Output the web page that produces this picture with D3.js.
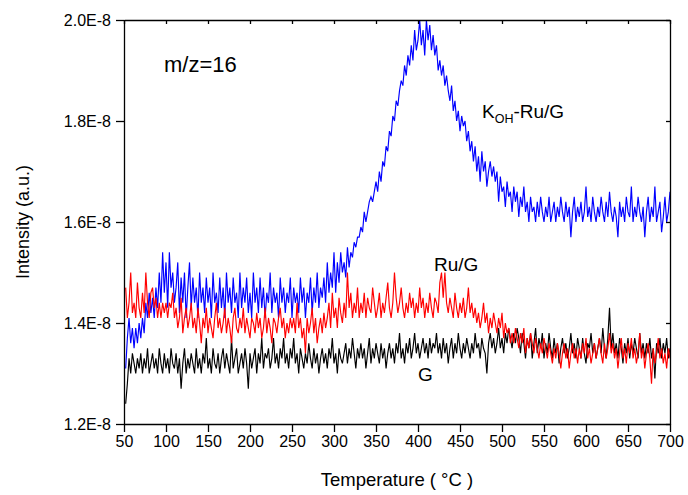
<!DOCTYPE html>
<html>
<head>
<meta charset="utf-8">
<script src="https://cdn.jsdelivr.net/npm/d3@7"></script>
<style>
    body { margin: 0; background: #fff; }
    svg { font-family: "Liberation Sans", Arial, sans-serif; }
    .axis path, .axis line { stroke: #000; stroke-width: 1.3; }
    .axis text { font-size: 16px; fill: #000; }
    .series { fill: none; stroke-width: 1.15; stroke-linejoin: miter; }
</style>
</head>
<body>
<svg width="688" height="495"></svg>
<script>
// Temperatures are sampled every 2 degC from 52 to 700
var temps = d3.range(52, 701, 2);

// Intensities in units of 1E-10 (so 134 = 1.34E-8)
var kohRuG = [
    131, 137, 141, 136, 139, 135, 139, 136, 140, 137,
    141, 138, 144, 141, 146, 142, 145, 141, 147, 143,
    150, 144, 154, 146, 152, 143, 154, 147, 150, 144,
    147, 152, 142, 149, 144, 150, 141, 147, 152, 143,
    149, 144, 147, 141, 150, 144, 147, 142, 149, 144,
    147, 141, 150, 144, 146, 142, 149, 143, 147, 141,
    150, 144, 147, 142, 149, 144, 146, 141, 150, 143,
    147, 144, 149, 142, 146, 141, 150, 144, 147, 142,
    149, 143, 147, 141, 146, 144, 150, 142, 147, 144,
    146, 141, 149, 144, 147, 142, 146, 144, 149, 141,
    147, 144, 146, 142, 149, 144, 147, 141, 146, 144,
    149, 142, 147, 144, 150, 143, 147, 145, 149, 144,
    152, 146, 150, 147, 154, 146, 152, 148, 154, 150,
    152, 149, 155, 151, 154, 153, 156, 155, 157, 157,
    159, 158, 162, 160, 162, 164, 165, 164, 166, 168,
    166, 170, 168, 172, 171, 175, 174, 178, 177, 181,
    180, 184, 183, 186, 188, 187, 191, 189, 193, 191,
    195, 192, 198, 194, 196, 200, 195, 198, 193, 200,
    196, 199, 194, 197, 193, 195, 190, 192, 189, 191,
    187, 189, 186, 184, 187, 182, 184, 180, 182, 178,
    181, 179, 180, 176, 178, 174, 176, 172, 175, 170,
    173, 168, 174, 170, 172, 167, 170, 172, 169, 171,
    168, 170, 164, 169, 166, 167, 163, 168, 165, 166,
    162, 167, 164, 166, 161, 165, 163, 167, 162, 164,
    160, 165, 162, 163, 160, 164, 161, 165, 162, 160,
    163, 161, 165, 160, 162, 164, 160, 163, 161, 165,
    162, 160, 164, 161, 163, 157, 162, 165, 160, 163,
    161, 164, 160, 162, 167, 161, 163, 160, 165, 162,
    160, 163, 161, 165, 162, 160, 164, 161, 166, 162,
    160, 163, 161, 157, 164, 161, 163, 160, 165, 162,
    161, 167, 160, 163, 161, 165, 162, 160, 163, 157,
    162, 165, 160, 163, 161, 167, 160, 162, 164, 158,
    161, 165, 160, 162, 166
];

var ruG = [
    147, 141, 144, 150, 142, 144, 141, 148, 143, 141,
    146, 142, 150, 144, 141, 146, 147, 143, 145, 141,
    144, 141, 144, 142, 144, 141, 144, 143, 146, 141,
    143, 139, 141, 145, 138, 141, 143, 139, 141, 144,
    139, 141, 138, 143, 140, 136, 141, 139, 143, 138,
    141, 139, 137, 141, 144, 139, 141, 138, 140, 143,
    138, 141, 139, 136, 141, 143, 139, 138, 141, 139,
    143, 138, 141, 139, 137, 141, 140, 138, 142, 139,
    141, 137, 139, 143, 138, 141, 139, 136, 141, 140,
    138, 141, 143, 139, 141, 137, 140, 138, 141, 139,
    141, 138, 144, 139, 141, 137, 139, 134, 141, 138,
    140, 143, 138, 141, 136, 139, 141, 138, 142, 139,
    141, 144, 139, 146, 141, 143, 139, 145, 142, 140,
    144, 141, 150, 143, 146, 141, 144, 142, 147, 141,
    144, 142, 146, 141, 145, 143, 142, 147, 144, 141,
    143, 146, 141, 144, 142, 145, 148, 143, 141, 144,
    150, 145, 142, 144, 147, 143, 141, 144, 142, 146,
    143, 145, 141, 144, 142, 147, 143, 145, 141, 144,
    142, 146, 143, 141, 145, 144, 142, 148, 150, 145,
    150, 144, 142, 145, 143, 141, 146, 143, 141, 144,
    142, 145, 141, 143, 147, 142, 144, 141, 143, 140,
    142, 139, 141, 144, 140, 142, 138, 141, 139, 142,
    140, 138, 141, 139, 142, 137, 140, 138, 139, 136,
    138, 136, 139, 137, 135, 138, 136, 139, 134, 137,
    135, 138, 136, 134, 137, 135, 133, 136, 134, 137,
    135, 133, 136, 134, 132, 135, 133, 136, 134, 131,
    134, 136, 133, 135, 131, 134, 136, 133, 135, 132,
    135, 133, 136, 134, 137, 133, 135, 132, 134, 136,
    133, 135, 137, 134, 132, 136, 133, 135, 138, 134,
    136, 133, 135, 131, 134, 137, 133, 135, 132, 136,
    134, 137, 133, 135, 132, 134, 138, 133, 135, 131,
    134, 136, 133, 128, 135, 132, 134, 137, 133, 135,
    132, 134, 131, 135, 133
];

var gOnly = [
    124, 128, 133, 130, 134, 132, 130, 133, 131, 134,
    130, 133, 131, 135, 130, 132, 134, 131, 133, 130,
    135, 132, 130, 134, 131, 133, 130, 135, 132, 131,
    134, 130, 133, 127, 132, 135, 130, 133, 131, 134,
    132, 130, 135, 131, 133, 130, 134, 132, 137, 131,
    133, 130, 135, 132, 131, 134, 130, 133, 135, 131,
    134, 132, 130, 137, 131, 133, 135, 130, 132, 134,
    131, 135, 132, 127, 134, 131, 133, 135, 130, 134,
    132, 137, 131, 134, 133, 135, 131, 133, 137, 132,
    134, 131, 135, 133, 137, 132, 134, 131, 135, 133,
    137, 132, 134, 130, 135, 133, 131, 134, 132, 136,
    133, 131, 135, 132, 134, 130, 133, 135, 132, 134,
    131, 135, 133, 137, 132, 134, 130, 135, 133, 132,
    134, 136, 132, 135, 133, 137, 134, 131, 135, 133,
    136, 133, 135, 131, 134, 137, 132, 135, 133, 136,
    134, 132, 136, 133, 135, 131, 134, 136, 133, 135,
    132, 136, 134, 138, 133, 135, 132, 136, 134, 137,
    133, 135, 138, 134, 136, 133, 135, 137, 134, 136,
    133, 137, 134, 136, 135, 138, 134, 136, 133, 137,
    134, 136, 132, 135, 137, 133, 136, 134, 138, 135,
    133, 136, 134, 137, 135, 133, 136, 134, 138, 135,
    136, 133, 137, 135, 134, 130, 136, 138, 135, 137,
    134, 136, 139, 135, 137, 134, 138, 136, 139, 137,
    135, 138, 136, 139, 137, 134, 138, 136, 133, 137,
    135, 138, 133, 136, 139, 134, 137, 135, 138, 133,
    136, 134, 138, 135, 133, 137, 134, 136, 132, 135,
    137, 134, 136, 133, 135, 138, 134, 136, 133, 137,
    135, 133, 137, 134, 132, 136, 135, 138, 134, 136,
    133, 135, 137, 134, 139, 135, 133, 137, 143, 135,
    138, 134, 136, 133, 137, 135, 132, 136, 134, 137,
    133, 136, 134, 137, 135, 133, 138, 134, 136, 133,
    136, 134, 137, 133, 135, 129, 136, 134, 137, 133,
    136, 134, 137, 133, 135
];

var xTicks = [50, 100, 150, 200, 250, 300, 350, 400, 450, 500, 550, 600, 650, 700];
var yTicks = [120, 140, 160, 180, 200];
var yTickLabels = ['1.2E-8', '1.4E-8', '1.6E-8', '1.8E-8', '2.0E-8'];

var svg = d3.select('svg');
var padding = {t: 20, r: 18, b: 71, l: 124};
var chartWidth = +svg.attr('width') - padding.l - padding.r;
var chartHeight = +svg.attr('height') - padding.t - padding.b;

var chartG = svg.append('g')
    .attr('transform', 'translate(' + [padding.l, padding.t] + ')');

var xScale = d3.scaleLinear().domain([50, 700]).range([0, chartWidth]);
var yScale = d3.scaleLinear().domain([120, 200]).range([chartHeight, 0]);

// Series, black first, red on top
var seriesList = [
    {values: gOnly, color: '#000000'},
    {values: kohRuG, color: '#0000ff'},
    {values: ruG, color: '#ff0000'}
];

var line = d3.line()
    .x(function(d, i) { return xScale(temps[i]); })
    .y(function(d) { return yScale(d); });

chartG.selectAll('.series')
    .data(seriesList)
    .enter()
    .append('path')
    .attr('class', 'series')
    .attr('stroke', function(d) { return d.color; })
    .attr('d', function(d) { return line(d.values); });

// Axes: labelled bottom/left, mirrored inward ticks top/right
chartG.append('g')
    .attr('class', 'axis')
    .attr('transform', 'translate(0,' + chartHeight + ')')
    .call(d3.axisBottom(xScale).tickValues(xTicks).tickSize(8).tickPadding(4).tickSizeOuter(0));

chartG.append('g')
    .attr('class', 'axis')
    .call(d3.axisLeft(yScale).tickValues(yTicks).tickSize(8).tickPadding(5).tickSizeOuter(0)
        .tickFormat(function(d, i) { return yTickLabels[i]; }));

chartG.append('g')
    .attr('class', 'axis')
    .call(d3.axisTop(xScale).tickValues(xTicks).tickSize(-4).tickSizeOuter(0).tickFormat(''));

chartG.append('g')
    .attr('class', 'axis')
    .attr('transform', 'translate(' + chartWidth + ',0)')
    .call(d3.axisRight(yScale).tickValues(yTicks).tickSize(-4).tickSizeOuter(0).tickFormat(''));

chartG.selectAll('.axis text').attr('font-size', 16);

// Axis titles
svg.append('text')
    .attr('x', padding.l + chartWidth / 2)
    .attr('y', 486)
    .attr('text-anchor', 'middle')
    .attr('font-size', 18.5)
    .text('Temperature ( \u00B0C )');

svg.append('text')
    .attr('transform', 'translate(29,' + (padding.t + chartHeight / 2) + ') rotate(-90)')
    .attr('text-anchor', 'middle')
    .attr('font-size', 18)
    .text('Intensity (a.u.)');

// Annotations
svg.append('text')
    .attr('x', 164)
    .attr('y', 72)
    .attr('font-size', 22)
    .text('m/z=16');

var kLabel = svg.append('text')
    .attr('x', 482)
    .attr('y', 118)
    .attr('font-size', 19);
kLabel.append('tspan').text('K');
kLabel.append('tspan').attr('font-size', 12.5).attr('dy', 5).text('OH');
kLabel.append('tspan').attr('dy', -5).text('-Ru/G');

svg.append('text')
    .attr('x', 434)
    .attr('y', 271)
    .attr('font-size', 19)
    .text('Ru/G');

svg.append('text')
    .attr('x', 418)
    .attr('y', 381)
    .attr('font-size', 19)
    .text('G');
</script>
</body>
</html>
